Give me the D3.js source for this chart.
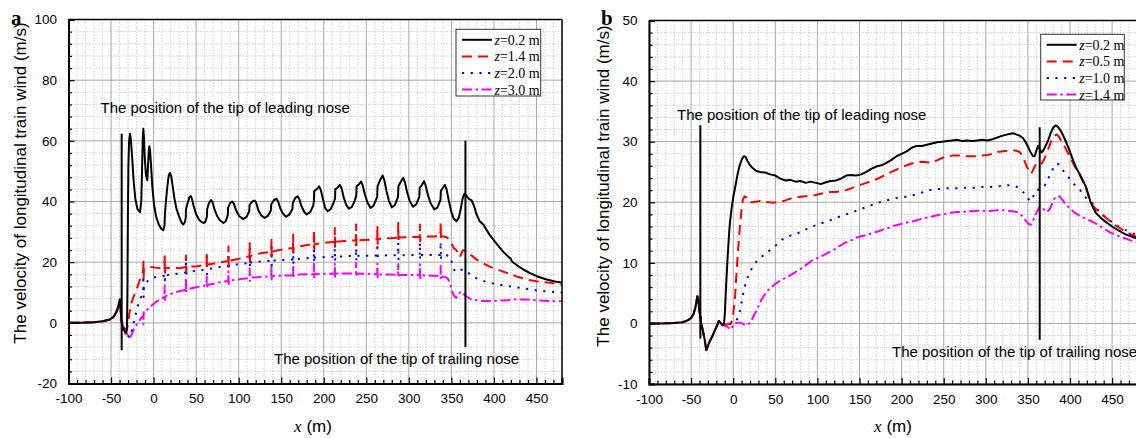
<!DOCTYPE html>
<html><head><meta charset="utf-8">
<script src="https://cdn.jsdelivr.net/npm/d3@7"></script>
<style>body{margin:0;background:#fff} svg{display:block}</style>
</head><body><svg id="c" width="1136" height="438"></svg>
<script>
// ---------- data ----------
const xTicks = [-100,-50,0,50,100,150,200,250,300,350,400,450];
const aYTicks = [-20,0,20,40,60,80,100];
const bYTicks = [-10,0,10,20,30,40,50];
const aLegend = ["0.2","1.4","2.0","3.0"];
const bLegend = ["0.2","0.5","1.0","1.4"];
const noseLabels = ["The position of the tip of leading nose","The position of the tip of trailing nose"];
const aNoseLead = [[-37.5,-9],[-37.5,62.3]];
const aNoseTrail = [[366.5,-8],[366.5,60]];
const bNoseLead = [[-39,-2.5],[-39,32.7]];
const bNoseTrail = [[364,-2.7],[364,32.4]];

const a_z02 = [[-100,0],[-85,0.05],[-70,0.2],[-60,0.5],[-52,1],[-47,2],[-44,3.5],[-42,5],[-40.5,6.8],[-39.6,7.8],[-38.8,5],[-38,1],[-37,-1],[-35.5,-2.2],[-33.5,-3],[-32,-3.2],[-31.2,-1],[-30.7,12],[-30.2,35],[-29.6,52],[-28.8,60],[-27.7,62.3],[-26.7,60.5],[-25.3,55],[-23.5,47],[-21.5,41],[-19,37.5],[-16,36.5],[-14.5,40],[-13.6,50],[-12.8,60],[-12.1,64],[-11.3,61],[-10.3,54],[-9,49],[-7.4,47],[-6.5,52],[-5.6,57],[-5,58.2],[-4.2,57],[-3,52],[-1.5,45],[0.5,39],[3,35],[6,32.5],[9,31],[11.4,30.5],[12.8,32],[13.3,35.5],[14.5,40],[16,44.5],[17.8,48.5],[19.3,49.4],[20.8,48.3],[22.5,45],[24.5,41],[27,37.5],[30,35],[33,33],[35,32.4],[36.8,33.2],[37.8,34.6],[38.1,37.5],[40,39.5],[42,41.4],[43.5,41.8],[45,41],[47,38.6],[50,35.8],[53.5,34],[56.5,33.2],[59.2,32.9],[61,33.4],[62.6,35],[63,37.5],[65,39.4],[67.5,40.5],[69.3,39.8],[71.5,37.5],[74.5,35.3],[78,33.8],[82,32.9],[85,33.6],[87.2,35.5],[87.6,38],[90,39.5],[92.5,40],[94.5,39.2],[97,37],[100.5,35.2],[105.4,34.2],[109.5,35],[112.4,36.8],[112.8,38.8],[116,40],[118.8,40.3],[120.8,39.4],[123.3,37],[126.5,35.4],[130.5,34.6],[134.5,35.3],[137.8,37],[138.2,39],[141.5,40.5],[144.4,40.9],[146.4,40],[148.8,37.8],[152,36],[155.6,35],[159.5,35.7],[163.2,37.5],[163.6,39.5],[166.5,41.2],[169.2,41.7],[171.2,40.8],[173.7,38.5],[177,36.6],[180,35.7],[184,36.5],[187.5,38.5],[188.4,40.2],[188.8,43.5],[191.5,44],[194.5,45],[196.5,43.8],[199,40.8],[201.5,38],[204.5,36.8],[208,37.4],[211.5,39.5],[213.2,41],[213.6,44],[216.5,44.6],[219,45.5],[221,44.3],[223.5,41.3],[226.5,38.8],[229.5,37.6],[233,38.2],[236.5,40.3],[238.2,42],[238.6,45],[241.5,45.7],[243.8,46.6],[245.8,45.3],[248.3,42.3],[251.5,39.6],[255,37.9],[258.5,38.6],[262.8,41.5],[263.2,45],[266,46.9],[269.2,48.6],[271.2,47],[273.7,43.5],[276.5,40.3],[280,38.1],[283.5,38.8],[287.3,41.5],[287.7,45],[290.5,46.5],[293.4,47.8],[295.4,46.3],[298,43],[301,40.2],[305,38.3],[308.5,39],[312.3,41.5],[312.7,44.5],[315.5,45.5],[317.8,46.7],[319.8,45.2],[322.4,42.2],[325.5,39.5],[330,37.4],[333.5,38],[337.2,40.5],[337.6,43.5],[340.2,44.6],[342.4,45.5],[344.4,44],[346.8,40.5],[349.5,37],[352.5,34.5],[356,33.5],[358.5,34.5],[361,37.5],[363,40.8],[364.8,42.3],[366,42.6],[368,41.8],[370.5,40.9],[373.8,40.4],[376.5,38.6],[379.5,35.8],[383,33.6],[387.4,32.4],[395,29],[403,26.1],[411,23.4],[418.5,21.4],[420,21.1],[421,20.3],[423,19.8],[428,18.8],[435,17.5],[443,16.3],[452,15.2],[462,14.3],[472,13.6],[480,13.2]];

const a_z14 = [[-100,0],[-85,0.05],[-70,0.2],[-60,0.5],[-52,1],[-47,2],[-44,3.3],[-42,4.8],[-40.5,6.3],[-39.6,6.8],[-38.6,4],[-37.3,0],[-35.5,-2.8],[-34,-4],[-32.5,-3.3],[-30.5,-1],[-28.5,3],[-26,6.5],[-23,9],[-20,11],[-17,13.5],[-14,15.5],[-12.2,17],[-12,21],[-11.7,15],[-11.4,17.8],[-8,18.3],[-3,18.4],[2,18.2],[7,18.1],[12.8,18.3],[13,23],[13.3,16.5],[13.6,18.2],[18,18.1],[24,18.2],[30,18],[37.8,18.4],[38,22.2],[38.3,16.8],[38.6,18.5],[44,18.6],[50,18.6],[56,18.9],[62.3,19.2],[62.5,23.2],[62.8,17.5],[63.1,19.2],[70,19.5],[78,19.9],[87.8,20.4],[88,25.2],[88.3,18.8],[88.6,20.4],[95,20.8],[103,21.3],[112.8,22],[113,26.3],[113.3,20.3],[113.6,22],[120,22.6],[128,23],[138.3,23.4],[138.5,27.4],[138.8,21.8],[139.1,23.4],[146,23.9],[154,24.3],[163.8,24.7],[164,29.1],[164.3,23.1],[164.6,24.8],[171,25.2],[179,25.6],[188.3,25.9],[188.5,30.8],[188.8,24.3],[189.1,25.9],[196,26.2],[204,26.5],[212.8,26.7],[213,31.3],[213.3,25.1],[213.6,26.7],[221,26.9],[229,27.1],[237.8,27.2],[238,32.4],[238.3,25.6],[238.6,27.2],[246,27.3],[254,27.4],[262.8,27.6],[263,32.1],[263.3,26],[263.6,27.6],[270,27.8],[278,27.9],[287.3,28.1],[287.5,33],[287.8,26.5],[288.1,28.1],[295,28.2],[303,28.3],[312.8,28.4],[313,32.4],[313.3,26.8],[313.6,28.4],[320,28.5],[329,28.5],[337.2,28.6],[337.4,33],[337.7,27],[338,28.6],[344,28.3],[347,27.6],[350,26.2],[353,24.6],[356,23.9],[358.5,22.4],[360,21.7],[362,23],[363.4,23.9],[366,23.8],[371,22.8],[379,21],[387.4,19.6],[397,18.3],[411,16.9],[426.6,15.3],[440,14.2],[450,13.7],[465.8,13.2],[480,12.5]];

const a_z20 = [[-100,0],[-85,0.05],[-70,0.2],[-60,0.5],[-52,1],[-47,2],[-44,3.3],[-42,4.8],[-40.5,6.2],[-39.6,6.6],[-38.6,4],[-37,0.5],[-35,-1.5],[-32,-3],[-29.5,-4.5],[-28,-4.8],[-26,-3],[-23,0.5],[-20,4],[-17,7],[-14,9],[-12.2,9.8],[-12,18.5],[-11.7,8.5],[-11.4,12],[-9,13.2],[-5,14.3],[0,14.9],[5,15.2],[10,15.4],[12.8,15.5],[13,20.5],[13.3,14],[13.6,15.6],[20,15.9],[28,16.2],[37.8,16.6],[38,20.8],[38.3,15],[38.6,16.7],[45,17],[54,17.3],[62.3,17.6],[62.5,21.8],[62.8,16],[63.1,17.7],[72,18.1],[80,18.5],[87.8,18.8],[88,23],[88.3,17.2],[88.6,18.9],[96,19.2],[104,19.5],[112.8,19.8],[113,24.5],[113.3,18.2],[113.6,19.9],[121,20.1],[129,20.3],[138.3,20.4],[138.5,25],[138.8,18.8],[139.1,20.5],[146,20.6],[154,20.8],[163.8,20.9],[164,25.4],[164.3,19.3],[164.6,21],[171,21.1],[179,21.3],[188.3,21.4],[188.5,25.8],[188.8,19.8],[189.1,21.5],[196,21.6],[204,21.7],[212.8,21.8],[213,26],[213.3,20.2],[213.6,21.9],[221,21.9],[229,22],[237.8,22],[238,26.2],[238.3,20.4],[238.6,22.1],[246,22.1],[254,22.1],[262.8,22.2],[263,26.2],[263.3,20.6],[263.6,22.2],[270,22.2],[278,22.3],[287.3,22.3],[287.5,26.5],[287.8,20.7],[288.1,22.3],[295,22.3],[303,22.3],[312.8,22.4],[313,26.5],[313.3,20.8],[313.6,22.4],[320,22.4],[329,22.4],[337.2,22.4],[337.4,26.8],[337.7,20.8],[338,22.4],[344,22.3],[348,22],[350.5,20],[352.5,17.8],[355,16.8],[358,16.9],[361,17.4],[364,17.6],[367,17.2],[372,16],[380,14.6],[390,13.6],[400,12.9],[413,12.2],[425,11.8],[440,11.1],[455,10.5],[470,10.2],[480,10]];

const a_z30 = [[-100,0],[-85,0.05],[-70,0.2],[-60,0.5],[-52,1],[-47,2],[-44,3.2],[-42,4.6],[-40.5,6],[-39.6,6.3],[-38.6,3.8],[-37,0.3],[-35,-1.8],[-32,-3.2],[-29.5,-4.5],[-28,-5],[-26,-4],[-23,-2],[-20,-0.6],[-17,0.6],[-14,1.9],[-12.2,2.3],[-12,-0.5],[-11.7,3.5],[-11.4,3],[-8,4.2],[-4,5.3],[0,6.2],[4,7.1],[8,7.9],[12.8,8.5],[13,12.4],[13.3,7.5],[13.6,8.7],[18,9.3],[25,10],[31,10.5],[37.8,10.9],[38,14.2],[38.3,10],[38.6,11],[45,11.4],[54,12],[62.3,12.4],[62.5,15.3],[62.8,11.4],[63.1,12.5],[72,13],[80,13.5],[87.8,13.8],[88,17],[88.3,12.8],[88.6,13.9],[96,14.2],[104,14.5],[112.8,14.8],[113,18],[113.3,13.8],[113.6,14.9],[121,15],[129,15.2],[138.3,15.3],[138.5,18.6],[138.8,14.3],[139.1,15.4],[146,15.5],[154,15.6],[163.8,15.7],[164,19],[164.3,14.7],[164.6,15.8],[171,15.9],[179,16],[188.3,16],[188.5,19.5],[188.8,15],[189.1,16.1],[196,16.1],[204,16.2],[212.8,16.2],[213,19.6],[213.3,15.2],[213.6,16.3],[221,16.3],[229,16.3],[237.8,16.3],[238,19.8],[238.3,15.3],[238.6,16.3],[246,16.2],[254,16.1],[262.8,16],[263,19.6],[263.3,15],[263.6,16],[270,15.9],[278,15.9],[287.3,15.8],[287.5,19.4],[287.8,14.8],[288.1,15.8],[295,15.8],[303,15.8],[312.8,15.7],[313,19.3],[313.3,14.7],[313.6,15.7],[320,15.6],[329,15.5],[337.2,15.4],[337.4,18.8],[337.7,14.4],[338,15.3],[343,15.1],[346,14.5],[348.5,13],[350.5,10.5],[353,9],[355.5,8.2],[358,9.2],[360,10],[362.5,10.2],[365,9.3],[368,8.6],[373,7.8],[380,7.4],[390,7.2],[400,7.2],[412,7.4],[425,7.7],[438,7.7],[450,7.4],[465,7.2],[480,7.1]];

const b_z02 = [[-100,0],[-85,0],[-70,0.05],[-60,0.2],[-54,0.5],[-50,0.9],[-47,1.6],[-45,2.6],[-43.5,3.7],[-42.5,4.5],[-41.5,3.8],[-40.5,2.5],[-39.5,1.5],[-38,0],[-36,-1.2],[-34,-2.6],[-32,-4.4],[-30,-3.7],[-27.5,-2.8],[-25,-2.2],[-22,-1.2],[-19,-0.3],[-17,0.4],[-15,0.1],[-12.7,-0.3],[-11,-0.1],[-10,1.5],[-8.5,6],[-7,10],[-5.5,13.5],[-4,16.5],[-2,18.9],[0,20.8],[2.5,22.6],[5,24.5],[7.5,26],[10,27],[12.5,27.6],[14.5,27.5],[17,26.8],[20,26.1],[23.5,25.6],[27,25.2],[32,25],[38,24.9],[44,24.6],[50,24.4],[56,23.9],[62,23.6],[68,23.7],[74,23.4],[80,23.5],[86,23.2],[92,23.4],[98,23.2],[104,23],[110,23.3],[116,23.5],[122,23.6],[128,23.9],[134,24.4],[140,24.5],[146,24.4],[152,24.6],[158,25],[164,25.5],[170,25.9],[176,26.1],[182,26.5],[188,27],[194,27.6],[200,28],[206,28.4],[212,29],[218,29.3],[224,29.3],[230,29.5],[236,29.7],[242,29.9],[248,30],[254,30.1],[260,30.2],[266,30.3],[272,30.1],[278,30.2],[284,30.1],[290,30.2],[296,30.3],[302,30.2],[308,30.4],[314,30.7],[320,31],[326,31.2],[332,31.4],[336,31.2],[340,31],[344,30.6],[347,30],[350,29.2],[353,28.3],[356,27.6],[358,27.6],[360,28.5],[362,29.3],[364,28.8],[366,28.2],[368,28.5],[371,29.3],[374,30.2],[377,31.4],[380,32.3],[383,32.7],[386,32.4],[389,31.8],[392,31],[396,29.7],[400,28.3],[404,26.8],[408,25.5],[412,24.5],[416,23.4],[419,22.5],[422,21.2],[424,20.2],[427,19.2],[431,18.2],[436,17.5],[442,16.8],[450,16],[458,15.3],[466,14.7],[474,14.3],[482,13.9],[490,13.6]];

const b_z05 = [[-100,0],[-85,0],[-70,0.05],[-60,0.2],[-54,0.5],[-50,0.9],[-47,1.6],[-45,2.6],[-43.5,3.7],[-42.5,4.5],[-41.5,3.8],[-40.5,2.5],[-39.5,1.5],[-38,0],[-36,-1.2],[-34,-2.6],[-32,-4.4],[-30,-3.7],[-27.5,-2.8],[-25,-2.2],[-22,-1.2],[-19,-0.3],[-17,0.4],[-15,0.1],[-12.7,-0.3],[-11,-0.1],[-8,-0.2],[-5,-0.1],[-2,0.2],[0,1.5],[2,4],[4,8.5],[6,12.5],[8,16],[10,19],[11.5,20.4],[13.5,21],[15.5,20.8],[18,20.2],[22,20],[27,20.1],[32,20.2],[37,20.1],[42,20],[47,19.9],[52,20],[57,20.1],[62,20.3],[68,20.6],[74,20.8],[80,20.9],[86,21],[92,21],[98,21.2],[104,21.4],[110,21.6],[116,21.7],[122,21.7],[128,21.8],[134,22],[140,22.3],[146,22.6],[152,22.9],[158,23.2],[164,23.5],[170,23.8],[176,24.2],[182,24.6],[188,25],[194,25.4],[200,25.8],[206,26.1],[212,26.4],[218,26.6],[224,26.7],[230,26.6],[236,26.5],[242,26.9],[248,27.3],[254,27.5],[260,27.7],[266,27.7],[272,27.7],[278,27.6],[284,27.6],[290,27.6],[296,27.7],[302,27.8],[308,28],[314,28.3],[320,28.4],[326,28.5],[332,28.6],[336,28.5],[340,28.3],[343,27.8],[346,26.8],[349,25.8],[352,25],[354,24.7],[357,25.6],[360,26.4],[363,26.3],[366,26.3],[369,27],[372,28],[375,29.1],[378,30.2],[381,31],[384,31.2],[387,30.8],[390,30],[394,29.1],[398,28],[402,26.9],[406,25.8],[411,24.7],[415,23.5],[419,22.4],[422,21],[424,20.1],[428,19.3],[432,18.7],[437,18.1],[443,17.4],[450,16.6],[458,15.8],[466,15.2],[474,14.6],[482,14.1],[490,13.7]];

const b_z10 = [[-100,0],[-85,0],[-70,0.05],[-60,0.2],[-54,0.5],[-50,0.9],[-47,1.6],[-45,2.6],[-43.5,3.7],[-42.5,4.5],[-41.5,3.8],[-40.5,2.5],[-39.5,1.5],[-38,0],[-36,-1.2],[-34,-2.6],[-32,-4.4],[-30,-3.7],[-27.5,-2.8],[-25,-2.2],[-22,-1.2],[-19,-0.3],[-17,0.4],[-15,0.1],[-12.7,-0.3],[-10,-0.3],[-7,-0.2],[-4,-0.1],[-1,0],[2,0.1],[4.3,0.6],[6.5,1.3],[8.6,2.4],[10.5,4],[12.9,5.6],[15.5,7],[19.2,8.3],[24,9.5],[28,10.3],[32,10.8],[38,11.5],[44.8,12.2],[50,12.8],[56,13.6],[61.8,14.2],[68,14.5],[74,14.8],[78.9,15],[85,15.4],[90,15.8],[96,16.1],[102,16.4],[108,16.7],[113,16.9],[120,17.3],[126,17.6],[130,17.8],[136,18.1],[142,18.4],[147,18.6],[152,18.9],[158,19.2],[164,19.5],[170,19.8],[176,20.1],[182,20.3],[188,20.5],[194,20.7],[200,20.8],[206,20.9],[212,21.1],[218,21.3],[224,21.6],[230,21.9],[236,22.1],[242,22.2],[248,22.2],[254,22.3],[260,22.3],[266,22.3],[272,22.4],[278,22.4],[284,22.4],[290,22.4],[296,22.5],[302,22.5],[308,22.5],[314,22.6],[320,22.7],[326,22.8],[332,22.8],[336,22.6],[340,22.3],[343,21.9],[346,21.4],[349,20.8],[352,20.3],[354,20.2],[356,20.8],[358,21.6],[360,22],[363,22.1],[366,22.2],[368.5,22.4],[371,23],[374,23.9],[377,24.7],[380,25.6],[383,26.3],[386,26.3],[389,25.9],[392,25.2],[396,24.5],[400,23.8],[404,23.1],[408,22.5],[412,22],[416,21.2],[420,20.6],[424,20.2],[428,19.6],[432,18.9],[437,18.1],[443,17.4],[450,16.7],[458,16],[466,15.4],[474,14.9],[482,14.5],[490,14.1]];

const b_z14 = [[-100,0],[-85,0],[-70,0.05],[-60,0.2],[-54,0.5],[-50,0.9],[-47,1.6],[-45,2.6],[-43.5,3.7],[-42.5,4.5],[-41.5,3.8],[-40.5,2.5],[-39.5,1.5],[-38,0],[-36,-1.2],[-34,-2.6],[-32,-4.4],[-30,-3.7],[-27.5,-2.8],[-25,-2.2],[-22,-1.2],[-19,-0.3],[-17,0.4],[-15,0.1],[-12.7,-0.3],[-10,-0.4],[-8,-0.5],[-6.3,-0.6],[-4.5,-0.9],[-3,-1],[-1.5,-0.7],[0,-0.3],[2.2,0],[5,0.1],[8,0.1],[10.7,0],[13,-0.2],[15,-0.3],[17,-0.2],[19.2,0],[22,0.6],[25,1.4],[27.8,2.2],[31,3.2],[34,4],[38.4,5],[43,5.7],[49,6.4],[55,7],[61.8,7.5],[67,7.9],[73,8.4],[78.9,8.9],[85,9.5],[90,10],[96,10.6],[102,10.9],[108,11.3],[113,11.7],[119,12.1],[124,12.6],[130,13.1],[136,13.5],[142,13.8],[147,14.2],[152,14.4],[158,14.6],[163,14.8],[168,15],[174,15.3],[180,15.6],[185,15.8],[190,16.1],[196,16.3],[202,16.5],[208,16.7],[215,16.9],[222,17.2],[228,17.4],[234,17.6],[241,17.8],[247,18],[253,18.1],[260,18.3],[266,18.4],[272,18.4],[278,18.5],[284,18.5],[290,18.6],[296,18.6],[302,18.5],[308,18.6],[314,18.7],[320,18.7],[326,18.6],[332,18.5],[336,18.4],[339,18.3],[342,17.9],[345,17.4],[348,16.9],[351,16.4],[353.6,16.3],[356,16.9],[358,17.7],[360,18.2],[362,18.8],[364,19.3],[366.4,19.2],[369,18.8],[372.8,18.4],[376,18.9],[379,19.8],[381,20.5],[383.4,20.9],[386,21],[388,20.9],[391,20.4],[394,19.8],[397,19.4],[401,18.9],[405,18.3],[410,17.9],[415,17.5],[420,17.2],[425,16.9],[432,16.4],[440,15.7],[448,15],[456,14.5],[464,14.1],[472,13.7],[480,13.4],[490,13.1]];

// ---------- drawing ----------
const svg = d3.select("#c");
const styles = [
  {color:"#000000", dash:null},
  {color:"#ff0000", dash:"10,6"},
  {color:"#0000ff", dash:"2.2,6.5"},
  {color:"#ff00ff", dash:"10,3.5,2.5,3.5"}
];
const SANS = "'Liberation Sans', Arial, sans-serif";
const SERIF = "'Liberation Serif', 'Times New Roman', serif";

function panel(cfg){
  const x = d3.scaleLinear().domain(cfg.xDom).range(cfg.xRange);
  const y = d3.scaleLinear().domain(cfg.yDom).range(cfg.yRange);
  const g = svg.append("g");
  const [L,R] = cfg.xRange, [B,T] = cfg.yRange;
  const clipId = "clip"+cfg.id;
  svg.append("clipPath").attr("id",clipId).append("rect")
    .attr("x",L).attr("y",T).attr("width",R-L).attr("height",B-T);

  const xMinor = d3.range(cfg.xDom[0], cfg.xDom[1]+0.001, 10).filter(v=>v%50!==0);
  const yMinor = d3.range(cfg.yDom[0], cfg.yDom[1]+0.001, cfg.yMinorStep).filter(v=>Math.abs(v%cfg.yMajorStep)>1e-9);

  const grid = g.append("g");
  grid.selectAll(".xm").data(xMinor).join("line")
    .attr("x1",d=>x(d)).attr("x2",d=>x(d)).attr("y1",T).attr("y2",B)
    .attr("stroke","#c4c4c4").attr("stroke-width",0.8).attr("stroke-dasharray","1.5,1.5");
  grid.selectAll(".ym").data(yMinor).join("line")
    .attr("y1",d=>y(d)).attr("y2",d=>y(d)).attr("x1",L).attr("x2",R)
    .attr("stroke","#c4c4c4").attr("stroke-width",0.8).attr("stroke-dasharray","1.5,1.5");
  grid.selectAll(".xM").data(xTicks).join("line")
    .attr("x1",d=>x(d)).attr("x2",d=>x(d)).attr("y1",T).attr("y2",B)
    .attr("stroke","#a8a8a8").attr("stroke-width",1);
  grid.selectAll(".yM").data(cfg.yTicks).join("line")
    .attr("y1",d=>y(d)).attr("y2",d=>y(d)).attr("x1",L).attr("x2",R)
    .attr("stroke","#a8a8a8").attr("stroke-width",1);

  // curves
  const line = d3.line().x(d=>x(d[0])).y(d=>y(d[1]));
  const cg = g.append("g").attr("clip-path",`url(#${clipId})`);
  cfg.series.slice().reverse().forEach((s,i)=>{
    const st = styles[cfg.series.length-1-i];
    cg.append("path").datum(s).attr("d",line).attr("fill","none")
      .attr("stroke",st.color).attr("stroke-width",2)
      .attr("stroke-dasharray",st.dash).attr("stroke-linejoin","round");
  });
  // nose lines
  [cfg.noseLead,cfg.noseTrail].forEach(n=>{
    cg.append("path").datum(n).attr("d",line).attr("stroke","#000").attr("stroke-width",2).attr("fill","none");
  });

  // border
  g.append("line").attr("x1",L).attr("x2",R).attr("y1",T).attr("y2",T).attr("stroke","#000").attr("stroke-width",1.5);
  g.append("line").attr("x1",R).attr("x2",R).attr("y1",T).attr("y2",B).attr("stroke","#000").attr("stroke-width",1.5);

  // axes
  const xa = g.append("g").attr("transform",`translate(0,${B})`)
    .call(d3.axisBottom(x).tickValues(xTicks).tickSize(-6).tickPadding(10).tickFormat(d=>String(d)));
  g.append("g").attr("transform",`translate(0,${B})`)
    .call(d3.axisBottom(x).tickValues(xMinor).tickSize(-3.5).tickFormat(""))
    .call(a=>a.select(".domain").remove());
  const ya = g.append("g").attr("transform",`translate(${L},0)`)
    .call(d3.axisLeft(y).tickValues(cfg.yTicks).tickSize(-6).tickPadding(11.5).tickFormat(d=>String(d)));
  g.append("g").attr("transform",`translate(${L},0)`)
    .call(d3.axisLeft(y).tickValues(yMinor).tickSize(-3.5).tickFormat(""))
    .call(a=>a.select(".domain").remove());
  g.selectAll(".tick line").attr("stroke","#000").attr("stroke-width",1.2);
  g.selectAll(".domain").attr("stroke","#000").attr("stroke-width",2);
  [xa,ya].forEach(a=>a.selectAll("text").attr("font-family",SANS).attr("font-size","13.5px").attr("fill","#000"));

  // axis titles
  g.append("text").attr("transform",`translate(${cfg.yTitlePos[0]},${cfg.yTitlePos[1]}) rotate(-90)`)
    .attr("text-anchor","middle").attr("font-family",SANS).attr("font-size","17px")
    .text("The velocity of longitudinal train wind (m/s)");
  const xt = g.append("text").attr("x",cfg.xTitleX).attr("y",432)
    .attr("text-anchor","middle").attr("font-size","17px");
  xt.append("tspan").attr("font-family",SERIF).attr("font-style","italic").text("x");
  xt.append("tspan").attr("font-family",SANS).text(" (m)");

  // panel letter
  g.append("text").attr("x",cfg.letterPos[0]).attr("y",cfg.letterPos[1])
    .attr("font-family",SERIF).attr("font-weight","bold").attr("font-size","21px").text(cfg.id);

  // annotations
  g.append("text").attr("x",cfg.leadTextPos[0]).attr("y",cfg.leadTextPos[1])
    .attr("font-family",SANS).attr("font-size","15px").text(noseLabels[0]);
  g.append("text").attr("x",cfg.trailTextPos[0]).attr("y",cfg.trailTextPos[1])
    .attr("font-family",SANS).attr("font-size","15px").text(noseLabels[1]);

  // legend
  const lg = g.append("g");
  const lb = cfg.legendBox;
  lg.append("rect").attr("x",lb[0]).attr("y",lb[1]).attr("width",lb[2]).attr("height",lb[3])
    .attr("fill","#fff").attr("stroke","#333").attr("stroke-width",1);
  cfg.legend.forEach((lab,i)=>{
    const yy = lb[1]+10.5+i*16.6;
    lg.append("line").attr("x1",lb[0]+6).attr("x2",lb[0]+36).attr("y1",yy).attr("y2",yy)
      .attr("stroke",styles[i].color).attr("stroke-width",2).attr("stroke-dasharray",styles[i].dash);
    const t = lg.append("text").attr("x",lb[0]+38.5).attr("y",yy).attr("dy","0.35em")
      .attr("font-family",SERIF).attr("font-size","14px");
    t.append("tspan").attr("font-style","italic").text("z");
    t.append("tspan").text("="+lab+" m");
  });
}

panel({id:"a", xDom:[-100,480], xRange:[68.5,562], yDom:[-20,100], yRange:[383.5,19.5],
  yTicks:aYTicks, yMajorStep:20, yMinorStep:4,
  series:[a_z02,a_z14,a_z20,a_z30], noseLead:aNoseLead, noseTrail:aNoseTrail,
  legend:aLegend, legendBox:[456,29.3,84.7,66.7], xTitleX:313,
  yTitlePos:[26,183], letterPos:[11,25], leadTextPos:[100.5,113], trailTextPos:[274,364]});

panel({id:"b", xDom:[-100,490], xRange:[649,1145.8], yDom:[-10,50], yRange:[384,20.5],
  yTicks:bYTicks, yMajorStep:10, yMinorStep:2,
  series:[b_z02,b_z05,b_z10,b_z14], noseLead:bNoseLead, noseTrail:bNoseTrail,
  legend:bLegend, legendBox:[1040.7,34.3,83.6,65.7], xTitleX:893,
  yTitlePos:[609,186], letterPos:[601,25], leadTextPos:[677,120], trailTextPos:[892,357]});
</script></body></html>
